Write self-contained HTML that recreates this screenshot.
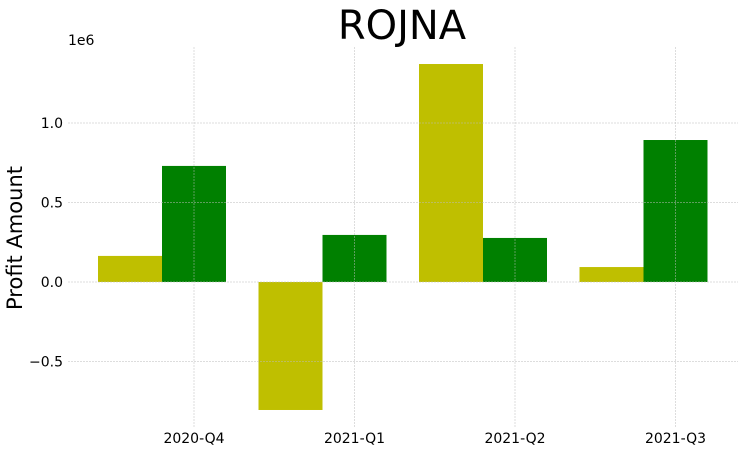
<!DOCTYPE html>
<html><head><meta charset="utf-8"><style>
body{margin:0;background:#fff;}
svg text{font-family:"DejaVu Sans","Liberation Sans",sans-serif;}
</style></head><body>
<svg id="chart" width="744" height="452">
<text x="402" y="39" font-size="40" text-anchor="middle">ROJNA</text>
<text x="68" y="45" font-size="14">1e6</text>
<text transform="translate(22,238) rotate(-90)" font-size="21" text-anchor="middle">Profit Amount</text>
<g id="bars"></g><g id="grid"></g><g id="ticks"></g>
</svg>
<script>
const categories=["2020-Q4","2021-Q1","2021-Q2","2021-Q3"];
const seriesA=[0.164e6,-0.805e6,1.371e6,0.094e6];
const seriesB=[0.73e6,0.296e6,0.277e6,0.893e6];
const yTicks=[-0.5e6,0,0.5e6,1.0e6];
const yTickLabels=["\u22120.5","0.0","0.5","1.0"];
const NS="http://www.w3.org/2000/svg";
const L=68,R=738,T=47,B=427,yMin=-0.912e6,yMax=1.478e6;
const y=v=>T+(yMax-v)/(yMax-yMin)*(B-T);
const xc=i=>162+160.5*i;
const bw=64;
function mk(tag,attrs,parent){const e=document.createElementNS(NS,tag);for(const k in attrs)e.setAttribute(k,attrs[k]);parent.appendChild(e);return e;}
const bars=document.getElementById('bars'),grid=document.getElementById('grid'),ticks=document.getElementById('ticks');
categories.forEach((c,i)=>{
  [[seriesA,'#bfbf00',-bw,'a'],[seriesB,'#008000',0,'b']].forEach(([s,col,off,n])=>{
    const v=s[i],y0=y(0),y1=y(v);
    const r=mk('rect',{x:xc(i)+off,y:Math.min(y0,y1),width:bw,height:Math.abs(y1-y0),fill:col},bars);
    
    
  });
  const gx=xc(i)+bw/2;
  const g=mk('line',{x1:gx,x2:gx,y1:T,y2:B,stroke:'#bbb','stroke-width':0.5,'stroke-dasharray':'2,1'},grid);
  
  
  const t=mk('text',{x:gx,y:443,'font-size':14,'text-anchor':'middle'},ticks);
  t.textContent=c;
  
  
});
yTicks.forEach((v,i)=>{
  const g=mk('line',{x1:L,x2:R,y1:y(v),y2:y(v),stroke:'#bbb','stroke-width':0.5,'stroke-dasharray':'2,1'},grid);
  
  
  const t=mk('text',{x:63,y:y(v)+5,'font-size':14,'text-anchor':'end'},ticks);
  t.textContent=yTickLabels[i];
  
  
});
</script>
</body></html>
